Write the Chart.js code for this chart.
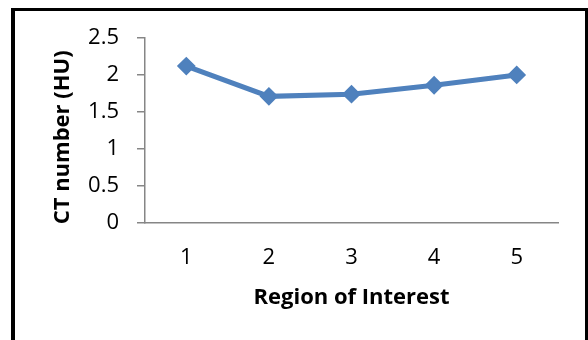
<!DOCTYPE html>
<html>
<head>
<meta charset="utf-8">
<script src="https://cdn.jsdelivr.net/npm/chart.js@4"></script>
<style>
  html, body { margin: 0; padding: 0; background: #fff; }
  #wrap { position: relative; width: 588px; height: 340px; overflow: hidden; }
  #frame {
    position: absolute; left: 11px; top: 8px; width: 570px; height: 400px;
    border-left: 4px solid #000; border-top: 3px solid #000; border-right: 3px solid #000;
  }
  #c { position: absolute; left: 0; top: 0; }
</style>
</head>
<body>
<div id="wrap">
  <div id="frame"></div>
  <canvas id="c" width="588" height="340"></canvas>
</div>
<script>
// Regions and their mean CT numbers
const regions = ['1', '2', '3', '4', '5'];
const ctNumbers = [2.12, 1.71, 1.74, 1.86, 2.0];
const yTicks = [0, 0.5, 1, 1.5, 2, 2.5];
const yTitle = 'CT number (HU)';
const xTitle = 'Region of Interest';

const FONT = '"Open Sans", Lato, sans-serif';
const AXIS_GREY = '#868686';
const SERIES_BLUE = '#4F81BD';

// Vertical axis title, drawn a little below the plot's mid-height
const yTitlePlugin = {
  id: 'yTitle',
  afterDraw(chart) {
    const { ctx, chartArea } = chart;
    ctx.save();
    ctx.font = 'bold 22px ' + FONT;
    ctx.fillStyle = '#000';
    ctx.textAlign = 'center';
    ctx.textBaseline = 'middle';
    ctx.translate(63, (chartArea.top + chartArea.bottom) / 2 + 7);
    ctx.rotate(-Math.PI / 2);
    ctx.fillText(yTitle, 0, 0);
    ctx.restore();
  }
};

new Chart(document.getElementById('c'), {
  type: 'line',
  data: {
    labels: regions,
    datasets: [{
      data: ctNumbers,
      borderColor: SERIES_BLUE,
      backgroundColor: SERIES_BLUE,
      borderWidth: 5,
      pointStyle: 'rectRot',
      pointRadius: 8,
      pointBorderWidth: 2,
      pointBorderColor: SERIES_BLUE,
      pointBackgroundColor: SERIES_BLUE,
      tension: 0
    }]
  },
  plugins: [yTitlePlugin],
  options: {
    responsive: false,
    animation: false,
    events: [],
    layout: { padding: { left: 0, top: 38, right: 30, bottom: 0 } },
    plugins: { legend: { display: false }, tooltip: { enabled: false } },
    scales: {
      x: {
        offset: true,
        grid: { display: false, drawTicks: false },
        border: { display: true, color: AXIS_GREY, width: 1.5 },
        ticks: { color: '#000', font: { family: FONT, size: 22 }, padding: 22, maxRotation: 0 },
        title: {
          display: true, text: xTitle, color: '#000',
          font: { family: FONT, size: 22, weight: 'bold' },
          padding: { top: 0, bottom: 29 }
        },
        afterFit(scale) { scale.height = 117.3; }
      },
      y: {
        min: 0, max: 2.5,
        afterBuildTicks(scale) { scale.ticks = yTicks.map(v => ({ value: v })); },
        grid: { drawOnChartArea: false, drawTicks: true, tickLength: 8, color: AXIS_GREY, lineWidth: 1.5 },
        border: { display: true, color: AXIS_GREY, width: 1.5 },
        ticks: {
          color: '#000', font: { family: FONT, size: 22 }, padding: 18,
          callback: v => String(v)
        },
        title: { display: false },
        afterFit(scale) { scale.width = 145; }
      }
    }
  }
});
</script>
</body>
</html>
